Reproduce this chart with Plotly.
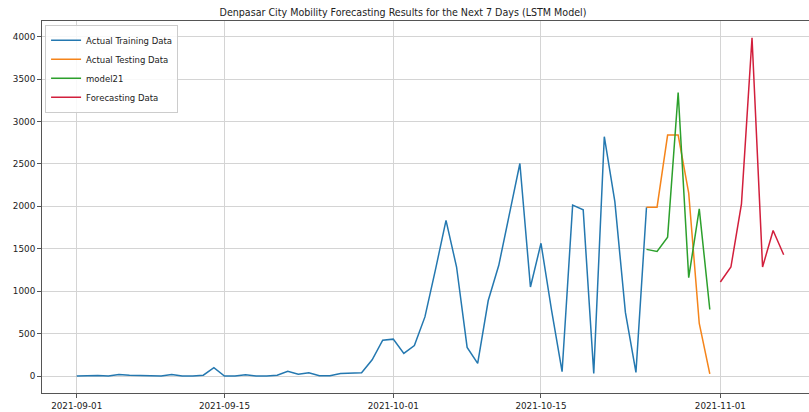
import pandas as pd
import plotly.graph_objects as go

# ---- data ----
train_start, train_end = "2021-09-01", "2021-10-25"
train_values = [0, 5, 5, 0, 18, 8, 8, 0, 0, 18,
                0, 0, 10, 98, 0, 0, 15, 0, 0, 10,
                57, 22, 38, 3, 3, 30, 35, 38, 192, 423,
                435, 267, 360, 697, 1255, 1834, 1285, 337, 149, 890,
                1305, 1912, 2505, 1050, 1565, 776, 51, 2015, 1960, 31,
                2821, 2055, 750, 43, 1990]

test_start, test_end = "2021-10-25", "2021-10-31"
test_values = [1990, 1990, 2840, 2840, 2155, 620, 25]
model_values = [1493, 1469, 1637, 3342, 1160, 1971, 784]

forecast_start, forecast_end = "2021-11-01", "2021-11-07"
forecast_values = [1109, 1285, 2030, 3988, 1285, 1716, 1430]

x_tick_labels = ["2021-09-01", "2021-09-15", "2021-10-01", "2021-10-15", "2021-11-01"]
y_ticks = [0, 500, 1000, 1500, 2000, 2500, 3000, 3500, 4000]

series_names = ["Actual Training Data", "Actual Testing Data", "model21", "Forecasting Data"]
colors = ["#2478b0", "#f5841a", "#2ca02c", "#d21f3c"]

train_dates = pd.date_range(train_start, train_end)
test_dates = pd.date_range(test_start, test_end)
forecast_dates = pd.date_range(forecast_start, forecast_end)

fig = go.Figure()
for name, xs, ys, c in [
    (series_names[0], train_dates, train_values, colors[0]),
    (series_names[1], test_dates, test_values, colors[1]),
    (series_names[2], test_dates, model_values, colors[2]),
    (series_names[3], forecast_dates, forecast_values, colors[3]),
]:
    fig.add_trace(go.Scatter(x=xs, y=ys, mode="lines", name=name,
                             line=dict(color=c, width=1.5)))

x0 = pd.Timestamp("2021-09-01")
x_range = [x0 - pd.Timedelta(days=3.29), x0 + pd.Timedelta(days=69.4)]

tick_font = dict(family="DejaVu Sans, sans-serif", size=8.8, color="#222222")

fig.update_layout(
    width=809, height=412,
    margin=dict(l=42, r=0, t=21, b=19),
    paper_bgcolor="white", plot_bgcolor="white",
    title=dict(text="Denpasar City Mobility Forecasting Results for the Next 7 Days (LSTM Model)",
               x=403 / 809, xref="container", xanchor="center",
               y=1 - 12 / 412, yref="container", yanchor="middle",
               font=dict(family="Liberation Sans Narrow, DejaVu Sans Condensed, Arial Narrow, sans-serif",
                         size=10.6, color="#222222")),
    legend=dict(x=0.004, y=0.99, xanchor="left", yanchor="top",
                bgcolor="rgba(255,255,255,0.85)", bordercolor="#cccccc", borderwidth=1,
                font=dict(family="DejaVu Sans, sans-serif", size=8.5, color="#222222"),
                itemwidth=30, tracegroupgap=0),
    xaxis=dict(range=x_range, tickvals=x_tick_labels, ticktext=x_tick_labels,
               showgrid=True, gridcolor="#d4d4d4", gridwidth=1,
               showline=True, linecolor="#555555", linewidth=1, mirror=True,
               ticks="outside", ticklen=4, tickcolor="#555555",
               tickfont=tick_font, zeroline=False),
    yaxis=dict(range=[-200, 4185], tickvals=y_ticks,
               showgrid=True, gridcolor="#d4d4d4", gridwidth=1,
               showline=True, linecolor="#555555", linewidth=1, mirror=False,
               ticks="outside", ticklen=4, tickcolor="#555555",
               tickfont=tick_font, zeroline=False),
)

fig.write_html("out.html")
